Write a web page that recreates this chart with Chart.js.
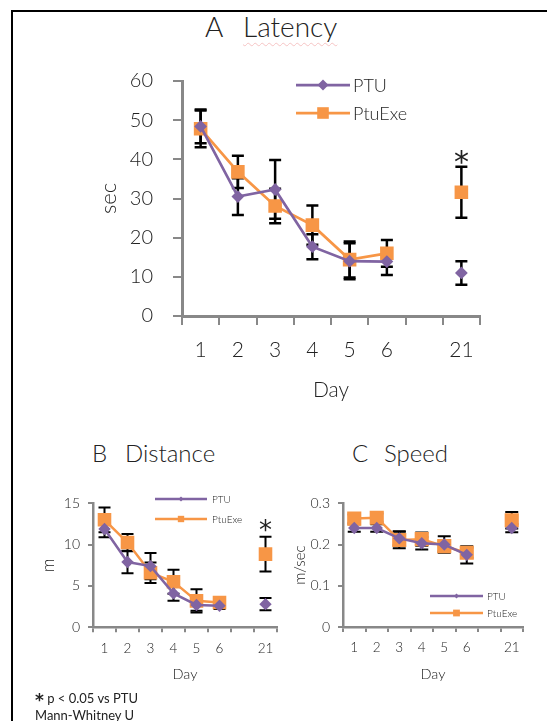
<!DOCTYPE html>
<html>
<head>
<meta charset="utf-8">
<script src="https://cdn.jsdelivr.net/npm/chart.js@4.4.0/dist/chart.umd.min.js"></script>
<style>
  body { margin: 0; width: 547px; height: 721px; overflow: hidden; background: #fff; font-family: Lato, "DejaVu Sans", sans-serif; font-weight: 300; color: #222; }
  #frame { position: absolute; left: 11px; top: 10px; width: 540px; height: 720px; border-top: 2px solid #000; border-left: 2px solid #000; }
  canvas { position: absolute; }
  .t { position: absolute; white-space: pre; }
  .sq { text-decoration: underline wavy #f6c4c4; text-decoration-thickness: 1px; text-underline-offset: 5px; }
  .note { position: absolute; font-size: 13px; line-height: 17px; white-space: pre; font-weight: 400; }
  .star { font-family: "DejaVu Sans", sans-serif; font-weight: 700; font-size: 17px; line-height: 13px; position: relative; top: 3px; }
</style>
</head>
<body>
<div id="frame"></div>
<div class="t" style="left:205px;top:12px;font-size:28px;line-height:28px">A</div>
<div class="t" style="left:243px;top:12px;font-size:28px;line-height:28px"><span class="sq">Latency</span></div>
<div class="t" style="left:92px;top:441px;font-size:24px;line-height:24px">B</div>
<div class="t" style="left:125px;top:441px;font-size:24px;line-height:24px">Distance</div>
<div class="t" style="left:352px;top:441px;font-size:24px;line-height:24px">C</div>
<div class="t" style="left:384px;top:441px;font-size:24px;line-height:24px">Speed</div>
<canvas id="chartA" width="547" height="420" style="left:0;top:0"></canvas>
<canvas id="chartB" width="290" height="230" style="left:0;top:470px"></canvas>
<canvas id="chartC" width="267" height="230" style="left:280px;top:470px"></canvas>
<div class="note" style="left:35px;top:690px"><span class="star">*</span> p &lt; 0.05 vs PTU
Mann-Whitney U</div>
<script>
const FONT = 'Lato, "DejaVu Sans", sans-serif';
const TXT = '#222';
const AXIS = '#888';
const PURPLE = '#8064a2';
const ORANGE = '#f79646';

const days = ['1', '2', '3', '4', '5', '6', '', '21'];

// A latency (sec): mean and SEM
const ptuLatency = [48.4, 30.5, 32.3, 17.7, 14.0, 13.9, null, 11.0];
const ptuLatencyErr = [4.3, 4.7, 7.5, 3.2, 4.6, 3.4, null, 3.0];
const exeLatency = [47.8, 36.8, 28.1, 23.2, 14.4, 16.0, null, 31.6];
const exeLatencyErr = [4.7, 4.1, 4.4, 5.0, 4.6, 3.4, null, 6.5];
const latencySig = ['21'];

// B distance (m)
const ptuDistance = [11.9, 7.9, 7.4, 4.1, 2.7, 2.6, null, 2.8];
const ptuDistanceErr = [1.0, 1.35, 1.6, 0.9, 0.7, 0.4, null, 0.75];
const exeDistance = [13.0, 10.25, 6.6, 5.5, 3.2, 3.0, null, 8.85];
const exeDistanceErr = [1.5, 1.05, 1.25, 1.45, 1.4, 0.5, null, 2.1];
const distanceSig = ['21'];

// C speed (m/sec)
const ptuSpeed = [0.240, 0.240, 0.215, 0.203, 0.200, 0.175, null, 0.240];
const ptuSpeedErr = [0.009, 0.009, 0.017, 0.015, 0.020, 0.021, null, 0.010];
const exeSpeed = [0.263, 0.265, 0.211, 0.213, 0.196, 0.180, null, 0.259];
const exeSpeedErr = [0.010, 0.010, 0.020, 0.016, 0.012, 0.012, null, 0.020];
const speedSig = [];

const errorBars = {
  id: 'errorBars',
  beforeDatasetsDraw(chart, args, opts) {
    const ctx = chart.ctx, xs = chart.scales.x, ys = chart.scales.y;
    ctx.save();
    ctx.strokeStyle = '#000';
    ctx.lineWidth = opts.width;
    chart.data.datasets.forEach(ds => {
      ds.data.forEach((v, i) => {
        if (v == null) return;
        const px = xs.getPixelForValue(i);
        const top = ys.getPixelForValue(v + ds.err[i]);
        const bot = ys.getPixelForValue(v - ds.err[i]);
        ctx.beginPath();
        ctx.moveTo(px, top); ctx.lineTo(px, bot);
        ctx.moveTo(px - opts.cap, top); ctx.lineTo(px + opts.cap, top);
        ctx.moveTo(px - opts.cap, bot); ctx.lineTo(px + opts.cap, bot);
        ctx.stroke();
      });
    });
    ctx.restore();
  },
  afterDatasetsDraw(chart, args, opts) {
    const ctx = chart.ctx, xs = chart.scales.x, ys = chart.scales.y;
    ctx.save();
    ctx.fillStyle = TXT;
    ctx.font = opts.starSize + 'px "DejaVu Sans", sans-serif';
    ctx.textAlign = 'center';
    ctx.textBaseline = 'alphabetic';
    opts.sig.forEach(d => {
      const i = chart.data.labels.indexOf(d);
      let hi = -Infinity;
      chart.data.datasets.forEach(ds => { if (ds.data[i] != null) hi = Math.max(hi, ds.data[i] + ds.err[i]); });
      const cy = ys.getPixelForValue(hi) - opts.starGap;
      ctx.fillText('*', xs.getPixelForValue(i), cy + opts.starSize * 0.58);
    });
    ctx.restore();
  }
};

const sideLegend = {
  id: 'sideLegend',
  afterDraw(chart, args, opts) {
    const ctx = chart.ctx;
    ctx.save();
    chart.data.datasets.forEach((ds, k) => {
      const y = opts.y + k * opts.dy;
      ctx.strokeStyle = ds.borderColor;
      ctx.lineWidth = opts.lineWidth;
      ctx.beginPath();
      ctx.moveTo(opts.x, y); ctx.lineTo(opts.x + opts.len, y);
      ctx.stroke();
      ctx.fillStyle = ds.backgroundColor;
      Chart.helpers.drawPoint(ctx, { pointStyle: ds.pointStyle, radius: opts.radius[k], rotation: 0, borderWidth: 0 }, opts.x + opts.len / 2, y);
      ctx.fillStyle = TXT;
      ctx.font = '300 ' + opts.size + 'px ' + FONT;
      ctx.textBaseline = 'middle';
      ctx.fillText(ds.label, opts.x + opts.len + opts.gap, y + 1);
    });
    ctx.restore();
  }
};

function makeChart(id, o) {
  const pad = { left: o.padLeft, right: o.padRight, top: o.area.top, bottom: o.padBottom };
  const chart = new Chart(document.getElementById(id), {
    type: 'line',
    data: {
      labels: days,
      datasets: [
        { label: 'PTU', data: o.ptu, err: o.ptuErr, borderColor: PURPLE, backgroundColor: PURPLE,
          borderWidth: o.lineW, pointStyle: 'rectRot', pointRadius: o.diamond, pointBorderWidth: 0, tension: 0 },
        { label: 'PtuExe', data: o.exe, err: o.exeErr, borderColor: ORANGE, backgroundColor: ORANGE,
          borderWidth: o.lineW, pointStyle: 'rect', pointRadius: o.square, pointBorderWidth: 0, tension: 0 }
      ]
    },
    options: {
      responsive: false,
      animation: false,
      events: [],
      layout: { padding: pad },
      plugins: {
        legend: { display: false },
        tooltip: { enabled: false },
        errorBars: { width: o.errW, cap: o.cap, starSize: o.starSize, starGap: o.starGap, sig: o.sig },
        sideLegend: o.legend
      },
      scales: {
        x: {
          offset: true,
          grid: { drawOnChartArea: false, offset: true, tickLength: o.tick, color: AXIS, lineWidth: 2 },
          border: { color: AXIS, width: o.axisW },
          ticks: { color: TXT, font: { size: o.xFont, family: FONT, weight: 300 }, padding: o.xPad, maxRotation: 0, autoSkip: false },
          title: { display: true, text: 'Day', color: TXT, font: { size: o.titleFont, family: FONT, weight: 300 }, padding: 0 },
          afterFit: s => { s.height = o.xH; }
        },
        y: {
          min: 0, max: o.max,
          grid: { drawOnChartArea: false, tickLength: o.tick, color: AXIS, lineWidth: 2 },
          border: { color: AXIS, width: o.axisW },
          ticks: { stepSize: o.step, color: TXT, font: { size: o.yFont, family: FONT, weight: 300 }, padding: o.yPad },
          title: { display: true, text: o.yTitle, color: TXT, font: { size: o.yTitleFont, family: FONT, weight: 300 }, padding: 0 },
          afterFit: s => { s.width = o.yW; }
        }
      }
    },
    plugins: [errorBars, sideLegend]
  });
  // pin the plot area to the wanted box
  const a = chart.chartArea;
  pad.top += o.area.top - a.top;
  pad.left += o.area.left - a.left;
  pad.right += a.right - o.area.right;
  pad.bottom += a.bottom - o.area.bottom;
  chart.update();
  return chart;
}

makeChart('chartA', {
  ptu: ptuLatency, ptuErr: ptuLatencyErr, exe: exeLatency, exeErr: exeLatencyErr, sig: latencySig,
  max: 60, step: 10, yTitle: 'sec',
  area: { left: 182, right: 480, top: 81, bottom: 316 },
  padLeft: 96, padRight: 67, padBottom: 17, yW: 86, xH: 87,
  tick: 9, axisW: 3, xFont: 21, yFont: 20, xPad: 13, yPad: 20, titleFont: 21, yTitleFont: 22,
  lineW: 2.75, diamond: 6.4, square: 9.6, errW: 2.5, cap: 6, starSize: 30, starGap: 12,
  legend: { x: 296, y: 85, dy: 28, len: 54, gap: 3, size: 18, lineWidth: 2.75, radius: [5.5, 8.2] }
});

makeChart('chartB', {
  ptu: ptuDistance, ptuErr: ptuDistanceErr, exe: exeDistance, exeErr: exeDistanceErr, sig: distanceSig,
  max: 15, step: 5, yTitle: 'm',
  area: { left: 93, right: 277, top: 33.3, bottom: 157.3 },
  padLeft: 38, padRight: 13, padBottom: 17, yW: 55, xH: 56,
  tick: 5, axisW: 2.5, xFont: 13.5, yFont: 14, xPad: 8, yPad: 8, titleFont: 14.5, yTitleFont: 17,
  lineW: 2.5, diamond: 6.2, square: 9.6, errW: 2, cap: 6, starSize: 26, starGap: 13,
  legend: { x: 155, y: 29, dy: 20, len: 52, gap: 5, size: 10, lineWidth: 2.5, radius: [2.5, 4.5] }
});

makeChart('chartC', {
  ptu: ptuSpeed, ptuErr: ptuSpeedErr, exe: exeSpeed, exeErr: exeSpeedErr, sig: speedSig,
  max: 0.3, step: 0.1, yTitle: 'm/sec',
  area: { left: 63, right: 243, top: 33.3, bottom: 157 },
  padLeft: 11, padRight: 24, padBottom: 17, yW: 52, xH: 56,
  tick: 5, axisW: 2.5, xFont: 13.5, yFont: 14, xPad: 8, yPad: 8, titleFont: 14.5, yTitleFont: 15,
  lineW: 2.5, diamond: 6.2, square: 10, errW: 2, cap: 6.5, starSize: 26, starGap: 13,
  legend: { x: 150, y: 126, dy: 17, len: 53, gap: 4, size: 10, lineWidth: 2.5, radius: [2.5, 4.8] }
});
</script>
</body>
</html>
